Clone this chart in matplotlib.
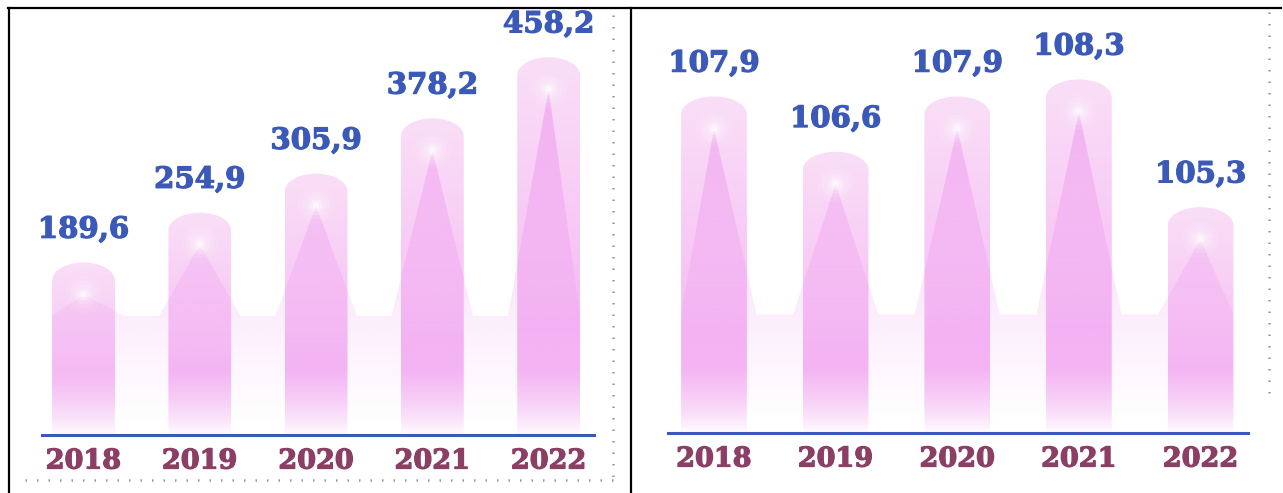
import numpy as np
import matplotlib.pyplot as plt
import matplotlib.patheffects as pe
from matplotlib.path import Path
from matplotlib.patches import PathPatch
from matplotlib.lines import Line2D

# chart data
years = ['2018', '2019', '2020', '2021', '2022']
left_values = [189.6, 254.9, 305.9, 378.2, 458.2]
right_values = [107.9, 106.6, 107.9, 108.3, 105.3]

W, H = 1283, 493
BLUE = '#3b59b8'
PLUM = '#8b3f64'
DOTS = '#9b9b9b'
FONT = 'DejaVu Serif'

fig = plt.figure(figsize=(W / 100, H / 100), dpi=100)


def add_px_axes(x0, x1, y_top, y_bot):
    # axes placed with pixel coordinates (origin at top left)
    return fig.add_axes([x0 / W, 1 - y_bot / H, (x1 - x0) / W, (y_bot - y_top) / H])


def px_line(x0, y0, x1, y1, **kw):
    fig.add_artist(Line2D([x0 / W, x1 / W], [1 - y0 / H, 1 - y1 / H], **kw))


def bar_path(c, w, base, top, cap):
    # cylinder outline: straight sides with a half ellipse on top
    t = np.linspace(np.pi, 0, 40)
    xs = [c - w / 2] + list(c + w / 2 * np.cos(t)) + [c + w / 2, c - w / 2]
    ys = [base] + list(top - cap + cap * np.sin(t)) + [base, base]
    return Path(np.column_stack([xs, ys]), closed=True)


def bar_rgba(h_px, n=300):
    d = np.linspace(0, h_px, n)
    mid = np.array([245, 184, 244]) / 255
    top = np.array([250, 222, 247]) / 255
    s = np.clip((d - 0.3 * h_px) / (0.7 * h_px), 0, 1)[:, None] ** 0.8
    col = mid * (1 - s) + top * s
    f = np.clip(d / 65, 0, 1)[:, None] ** 0.7
    col = 1 - (1 - col) * f
    return np.concatenate([col, np.ones((n, 1))], axis=1)[:, None, :]


def area_rgba(h_px, n=400):
    d = np.linspace(0, h_px, n)
    col = np.tile(np.array([236, 136, 238]) / 255, (n, 1))
    a = 0.62 * np.clip((d - 10) / h_px, 0, 1) ** 1.05
    return np.concatenate([col, a[:, None]], axis=1)[:, None, :]


def draw_panel(ax, values, base, top_lim, xlim, ax_h_px):
    ppu = ax_h_px / (top_lim - base)
    cap = 18 / ppu
    w = 0.54

    # gradient cylinders
    for i, v in enumerate(values):
        patch = PathPatch(bar_path(i, w, base, v, cap), fc='none', ec='none')
        ax.add_patch(patch)
        im = ax.imshow(bar_rgba((v - base) * ppu), extent=[i - w / 2, i + w / 2, base, v],
                       origin='lower', aspect='auto', interpolation='bilinear', zorder=1)
        im.set_clip_path(patch)

    # translucent mountain shape behind the glow points
    glow = [v - 32 / ppu for v in values]
    valley = base + 0.28 * (top_lim - base)
    verts = [(-w / 2, base), (-w / 2, valley)]
    for i, g in enumerate(glow):
        if i > 0:
            verts.append((i - w / 2 - 0.08, valley))
        verts.append((i, g))
        verts.append((i + w / 2 + 0.08 if i < len(values) - 1 else i + w / 2, valley))
    verts += [(len(values) - 1 + w / 2, base), (-w / 2, base)]
    area = PathPatch(Path(verts, closed=True), fc='none', ec='none')
    ax.add_patch(area)
    im = ax.imshow(area_rgba(ax_h_px), extent=[xlim[0], xlim[1], base, top_lim],
                   origin='lower', aspect='auto', interpolation='bilinear', zorder=2)
    im.set_clip_path(area)

    # soft white glow
    for s, a in [(700, 0.08), (400, 0.12), (200, 0.18), (80, 0.3), (20, 0.6)]:
        ax.scatter(range(len(values)), glow, s=s, color='white', alpha=a,
                   edgecolors='none', zorder=3)

    # value labels
    for i, v in enumerate(values):
        ax.annotate(f'{v:.1f}'.replace('.', ','), (i, v), xytext=(0, 24),
                    textcoords='offset points', ha='center', va='center',
                    fontsize=21, fontweight='bold', color=BLUE, family=FONT, zorder=4,
                    path_effects=[pe.withStroke(linewidth=0.9, foreground=BLUE)])

    ax.set_xlim(*xlim)
    ax.set_ylim(base, top_lim)
    ax.set_xticks(range(len(years)))
    ax.set_xticklabels(years, fontsize=19.5, fontweight='bold', color=PLUM, family=FONT)
    for lab in ax.get_xticklabels():
        lab.set_path_effects([pe.withStroke(linewidth=0.9, foreground=PLUM)])
    ax.tick_params(axis='x', length=0, pad=9)
    ax.set_yticks([])
    for side in ['top', 'left', 'right']:
        ax.spines[side].set_visible(False)
    ax.spines['bottom'].set_color(BLUE)
    ax.spines['bottom'].set_linewidth(2.2)
    ax.patch.set_alpha(0)


ax_left = add_px_axes(42, 594, 10, 435)
draw_panel(ax_left, left_values, -36, 520, (-0.357, 4.39), 425)

ax_right = add_px_axes(668, 1248, 10, 433)
draw_panel(ax_right, right_values, 100, 109.93, (-0.378, 4.39), 423)

# frame lines
px_line(8, 8, 1281, 8, color='black', lw=1.6)
px_line(8.5, 8, 8.5, 493, color='black', lw=1.6)
px_line(631, 8, 631, 493, color='black', lw=1.6)

# dotted guides
dot = dict(color=DOTS, lw=1.8, linestyle=(0, (0.6, 4)))
px_line(613, 15, 613, 480, **dot)
px_line(25, 480, 613, 480, **dot)
px_line(1269, 12, 1269, 398, **dot)

fig.savefig('out.png', dpi=100)
